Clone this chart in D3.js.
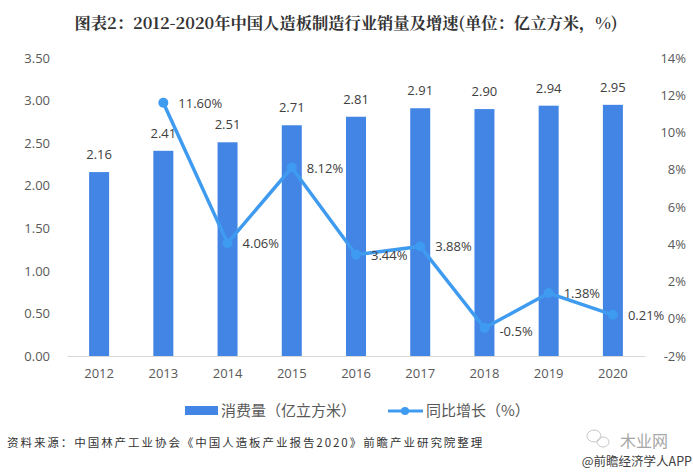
<!DOCTYPE html>
<html>
<head>
<meta charset="utf-8">
<script src="https://cdn.jsdelivr.net/npm/d3@7"></script>
<style>
  html, body { margin: 0; padding: 0; background: #fff; }
  text { font-family: "Noto Sans CJK SC", sans-serif; }
  .num { font-family: "Open Sans", "Noto Sans", sans-serif; font-size: 13px; fill: #595959; }
  .lab { font-family: "Open Sans", "Noto Sans", sans-serif; font-size: 13px; fill: #404040; }
</style>
</head>
<body>
<div id="chart"></div>
<script>
const years = ['2012', '2013', '2014', '2015', '2016', '2017', '2018', '2019', '2020'];
const volume = [2.16, 2.41, 2.51, 2.71, 2.81, 2.91, 2.90, 2.94, 2.95];
// pas de point en 2012
const growthYears = ['2013', '2014', '2015', '2016', '2017', '2018', '2019', '2020'];
const growth = [11.60, 4.06, 8.12, 3.44, 3.88, -0.5, 1.38, 0.21];
const growthLabels = ['11.60%', '4.06%', '8.12%', '3.44%', '3.88%', '-0.5%', '1.38%', '0.21%'];
const leftTicks = [0, 0.5, 1, 1.5, 2, 2.5, 3, 3.5];
const rightTicks = [-2, 0, 2, 4, 6, 8, 10, 12, 14];

const width = 693, height = 475;
const margin = { top: 58, right: 48, bottom: 119, left: 67 };

const svg = d3.select('#chart').append('svg')
    .attr('width', width)
    .attr('height', height)
    .style('display', 'block');

// Scales
const x = d3.scaleBand().domain(years).range([margin.left, width - margin.right]);
const yLeft = d3.scaleLinear().domain([0, 3.5]).range([height - margin.bottom, margin.top]);
const yRight = d3.scaleLinear().domain([-2, 14]).range([height - margin.bottom, margin.top]);
const cx = d => x(d) + x.bandwidth() / 2;

// Titre
svg.append('text')
    .attr('x', 346).attr('y', 29)
    .attr('text-anchor', 'middle')
    .style('font-family', '"Noto Serif CJK SC", "Noto Sans CJK SC", serif')
    .style('font-size', '16.3px')
    .style('font-weight', 700)
    .attr('fill', '#333')
    .text('图表2\uFF1A2012-2020年中国人造板制造行业销量及增速(单位\uFF1A亿立方米\uFF0C%)');

// Axes
const axisLeft = svg.append('g')
    .attr('transform', `translate(${margin.left},0)`)
    .call(d3.axisLeft(yLeft).tickValues(leftTicks).tickFormat(d3.format('.2f')).tickSize(0).tickPadding(17));
axisLeft.select('.domain').remove();
axisLeft.selectAll('text').attr('class', 'num');

const axisRight = svg.append('g')
    .attr('transform', `translate(${width - margin.right},0)`)
    .call(d3.axisRight(yRight).tickValues(rightTicks).tickFormat(d => d + '%').tickSize(0).tickPadding(-2));
axisRight.select('.domain').remove();
axisRight.selectAll('text').attr('class', 'num').attr('text-anchor', 'end').attr('dx', 43);

const axisBottom = svg.append('g')
    .attr('transform', `translate(0,${height - margin.bottom})`)
    .call(d3.axisBottom(x).tickSize(0).tickPadding(13));
axisBottom.select('.domain').attr('stroke', '#d9d9d9');
axisBottom.selectAll('text').attr('class', 'num');

// Barres
const barW = 20;
svg.append('g').selectAll('rect')
    .data(years)
    .enter()
    .append('rect')
    .attr('x', d => cx(d) - barW / 2)
    .attr('y', (d, i) => yLeft(volume[i]))
    .attr('width', barW)
    .attr('height', (d, i) => yLeft(0) - yLeft(volume[i]))
    .attr('fill', '#4285e4');

svg.append('g').selectAll('text')
    .data(years)
    .enter()
    .append('text')
    .attr('class', 'lab')
    .attr('x', d => cx(d))
    .attr('y', (d, i) => yLeft(volume[i]) - 13)
    .attr('text-anchor', 'middle')
    .text((d, i) => volume[i].toFixed(2));

// Courbe
const line = d3.line()
    .x(d => cx(d))
    .y((d, i) => yRight(growth[i]));

svg.append('path')
    .attr('d', line(growthYears))
    .attr('fill', 'none')
    .attr('stroke', '#3f9bef')
    .attr('stroke-width', 3.5);

svg.append('g').selectAll('circle')
    .data(growthYears)
    .enter()
    .append('circle')
    .attr('cx', d => cx(d))
    .attr('cy', (d, i) => yRight(growth[i]))
    .attr('r', 5)
    .attr('fill', '#3f9bef');

svg.append('g').selectAll('text')
    .data(growthYears)
    .enter()
    .append('text')
    .attr('class', 'lab')
    .attr('x', d => cx(d) + 15)
    .attr('y', (d, i) => yRight(growth[i]) + (growth[i] < 0 ? 8 : 5))
    .text((d, i) => growthLabels[i]);

// Légende
const legend = svg.append('g');
legend.append('rect')
    .attr('x', 185).attr('y', 406).attr('width', 33).attr('height', 9).attr('fill', '#4285e4');
legend.append('text')
    .attr('x', 221).attr('y', 416)
    .style('font-size', '15px').attr('fill', '#595959')
    .text('消费量\uFF08亿立方米\uFF09');
legend.append('line')
    .attr('x1', 388).attr('x2', 423).attr('y1', 411).attr('y2', 411)
    .attr('stroke', '#3f9bef').attr('stroke-width', 3);
legend.append('circle')
    .attr('cx', 405).attr('cy', 411).attr('r', 4).attr('fill', '#3f9bef');
legend.append('text')
    .attr('x', 426).attr('y', 416)
    .style('font-size', '15px').attr('fill', '#595959')
    .text('同比增长\uFF08%\uFF09');

// Source
svg.append('text')
    .attr('x', 7).attr('y', 447)
    .style('font-size', '11.5px')
    .style('letter-spacing', '1.95px')
    .attr('fill', '#333')
    .text('资料来源\uFF1A中国林产工业协会《中国人造板产业报告2020》前瞻产业研究院整理');

// Filigrane
const mark = svg.append('g').attr('fill', 'none').attr('stroke', '#c8c8c8');
mark.append('ellipse').attr('cx', 594).attr('cy', 436).attr('rx', 7).attr('ry', 6);
mark.append('ellipse').attr('cx', 603).attr('cy', 442).attr('rx', 6).attr('ry', 5);
svg.append('text')
    .attr('x', 620).attr('y', 447)
    .style('font-size', '16px').attr('fill', '#a6a6a6')
    .text('木业网');
svg.append('text')
    .attr('x', 692).attr('y', 466)
    .attr('text-anchor', 'end')
    .style('font-size', '12.5px').attr('fill', '#404040')
    .text('@前瞻经济学人APP');
</script>
</body>
</html>
